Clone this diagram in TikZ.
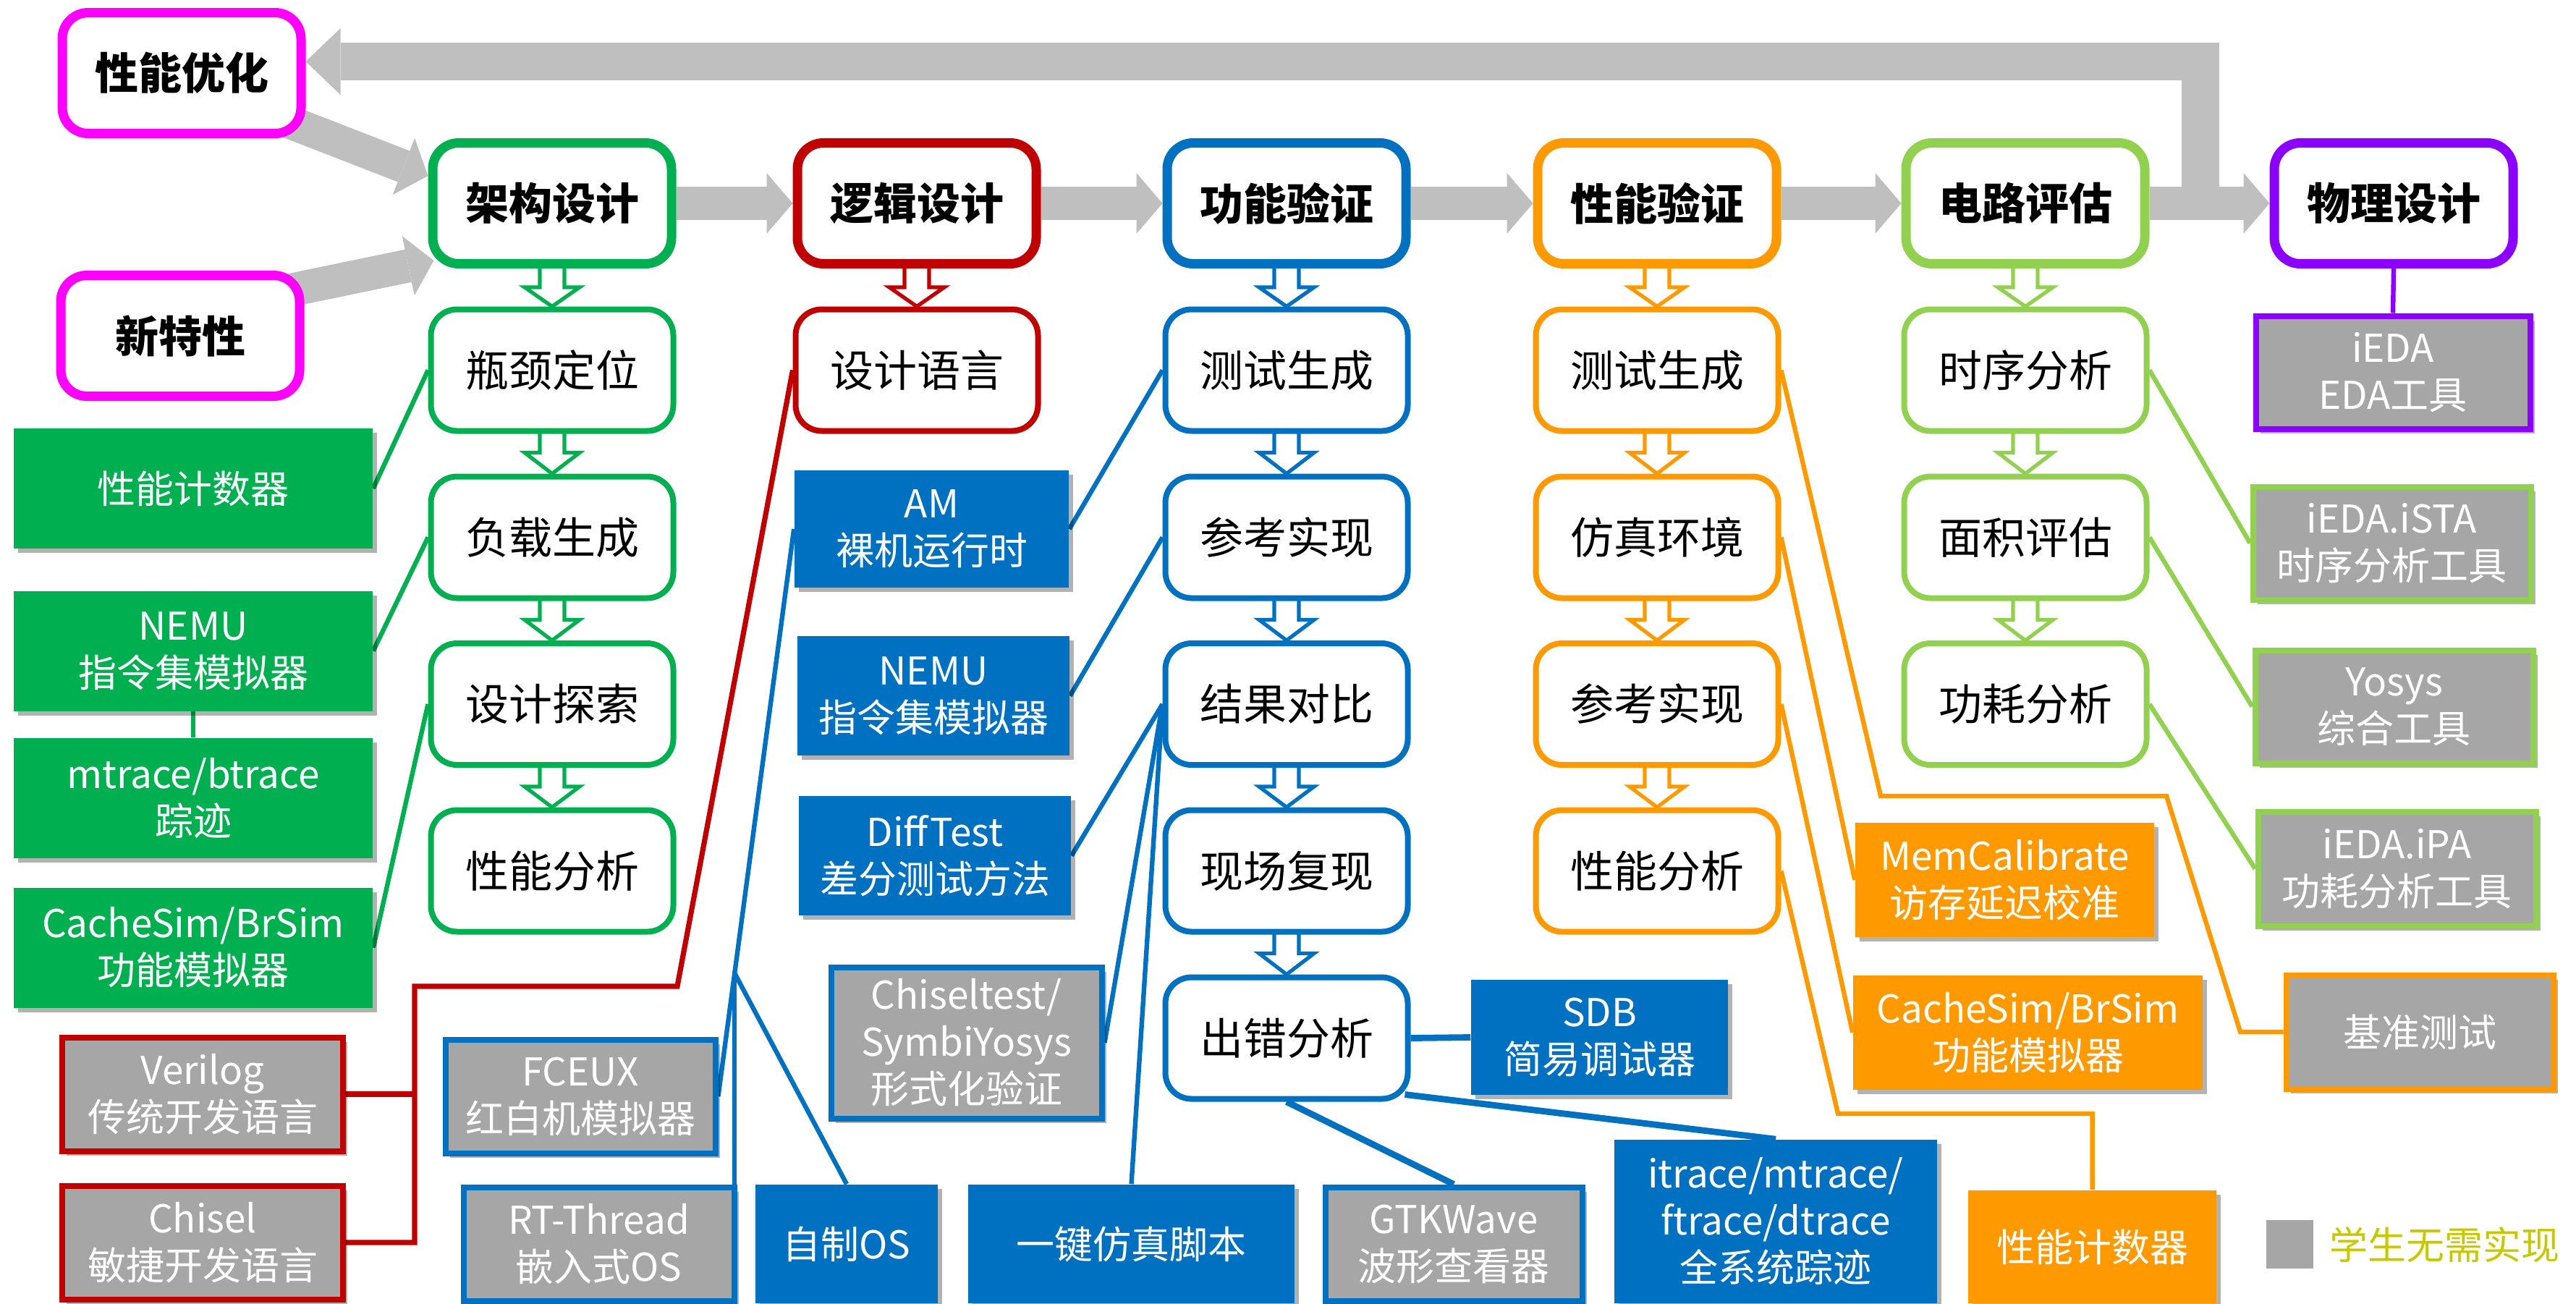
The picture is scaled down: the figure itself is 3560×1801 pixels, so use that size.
\documentclass[tikz,border=0pt]{standalone}
\usepackage{fontspec}
\setmainfont{Noto Sans CJK SC}
\usetikzlibrary{arrows.meta,calc,backgrounds,shadows}
\definecolor{cgreen}{HTML}{00B050}
\definecolor{cred}{HTML}{C00000}
\definecolor{cblue}{HTML}{0070C0}
\definecolor{corange}{HTML}{FF9900}
\definecolor{clgreen}{HTML}{92D050}
\definecolor{cpurple}{HTML}{8B00FF}
\definecolor{cmag}{HTML}{FF00FF}
\definecolor{cgrayfill}{HTML}{A6A6A6}
\definecolor{carrow}{HTML}{BFBFBF}
\definecolor{clegend}{HTML}{C8C800}
\newcommand\sidefont{\fontsize{13.25}{16.25}\selectfont}
\newcommand\boxfont{\fontsize{15}{18}\selectfont}
\newcommand\harrow[3]{%
  \draw[hollowarr,draw=#3] ($(#1.south)+(-17,-10)$) -- ($(#1.south)+(-17,26)$) -- ($(#1.south)+(-38,26)$) -- (#2.north) -- ($(#1.south)+(38,26)$) -- ($(#1.south)+(17,26)$) -- ($(#1.south)+(17,-10)$);}
\begin{document}
\begin{tikzpicture}[x=0.25pt,y=-0.25pt,
  hdr/.style={draw=#1, line width=3.25pt, rounded corners=9pt, fill=white, minimum width=82.5pt, minimum height=41.75pt, inner sep=0pt, font=\boxfont\bfseries},
  sub/.style={draw=#1, line width=2pt, rounded corners=9pt, fill=white, minimum width=83.75pt, minimum height=42pt, inner sep=0pt, font=\boxfont},
  shad/.style={drop shadow={shadow xshift=1.5pt,shadow yshift=-1.5pt,opacity=.3,fill=black}},
  ftool/.style={fill=#1, text=white, align=center, inner sep=0pt, font=\sidefont, shad},
  gtool/.style={fill=cgrayfill, draw=#1, line width=2pt, text=white, align=center, inner sep=0pt, font=\sidefont, shad},
  wh/.style 2 args={minimum width=#1, minimum height=#2},
  garrow/.style={draw=carrow, line width=11.5pt, -{Triangle[length=9pt,width=21pt,line width=0pt]}},
  looparrow/.style={draw=carrow, line width=13pt, -{Triangle[length=12pt,width=23pt,line width=0pt]}},
  hollowarr/.style={line width=1.3pt, fill=white, line join=miter},
  conn/.style={draw=#1, line width=1.6pt},
  conn2/.style={draw=#1, line width=2.2pt}]
\useasboundingbox (0,0) rectangle (3560,1801);

% headers
\node[hdr=cgreen] (h1) at (763,281) {架构设计};
\node[hdr=cred] (h2) at (1267,281) {逻辑设计};
\node[hdr=cblue] (h3) at (1778,281) {功能验证};
\node[hdr=corange] (h4) at (2290,281) {性能验证};
\node[hdr=clgreen] (h5) at (2799,281) {电路评估};
\node[hdr=cpurple] (h6) at (3308,281) {物理设计};
\node[hdr=cmag] (opt) at (251,101) {性能优化};
\node[hdr=cmag] (nf) at (249,464) {新特性};

% sub boxes
\node[sub=cgreen] (s11) at (763,511.5) {瓶颈定位};
\node[sub=cgreen] (s12) at (763,742.5) {负载生成};
\node[sub=cgreen] (s13) at (763,973) {设计探索};
\node[sub=cgreen] (s14) at (763,1203.5) {性能分析};
\node[sub=cred] (s21) at (1267,511.5) {设计语言};
\node[sub=cblue] (s31) at (1778,511.5) {测试生成};
\node[sub=cblue] (s32) at (1778,742.5) {参考实现};
\node[sub=cblue] (s33) at (1778,973) {结果对比};
\node[sub=cblue] (s34) at (1778,1203.5) {现场复现};
\node[sub=cblue] (s35) at (1778,1434.5) {出错分析};
\node[sub=corange] (s41) at (2290,511.5) {测试生成};
\node[sub=corange] (s42) at (2290,742.5) {仿真环境};
\node[sub=corange] (s43) at (2290,973) {参考实现};
\node[sub=corange] (s44) at (2290,1203.5) {性能分析};
\node[sub=clgreen] (s51) at (2799,511.5) {时序分析};
\node[sub=clgreen] (s52) at (2799,742.5) {面积评估};
\node[sub=clgreen] (s53) at (2799,973) {功耗分析};

% green tools
\node[ftool=cgreen, wh={124pt}{41.5pt}] (pc1) at (267,675) {性能计数器};
\node[ftool=cgreen, wh={124pt}{41.5pt}] (nemu1) at (267,899.5) {NEMU\\指令集模拟器};
\node[ftool=cgreen, wh={124pt}{41.5pt}] (mtr) at (267,1102.5) {mtrace/btrace\\踪迹};
\node[ftool=cgreen, wh={124pt}{41.5pt}] (cs1) at (267,1309.5) {CacheSim/BrSim\\功能模拟器};
% red tools
\node[gtool=cred, wh={97pt}{39.25pt}] (verilog) at (280,1512) {Verilog\\传统开发语言};
\node[gtool=cred, wh={97pt}{39.25pt}] (chisel) at (280,1717) {Chisel\\敏捷开发语言};
% blue tools
\node[ftool=cblue, wh={94.75pt}{40.5pt}] (am) at (1287.5,731) {AM\\裸机运行时};
\node[ftool=cblue, wh={94pt}{41.25pt}] (nemu2) at (1290,961.5) {NEMU\\指令集模拟器};
\node[ftool=cblue, wh={94pt}{41.25pt}] (dt) at (1292,1182.5) {DiffTest\\差分测试方法};
\node[gtool=cblue, wh={93.5pt}{52.25pt}] (ct) at (1335.5,1441) {Chiseltest/\\SymbiYosys\\形式化验证};
\node[gtool=cblue, wh={93.25pt}{39.25pt}] (fceux) at (802,1515) {FCEUX\\红白机模拟器};
\node[gtool=cblue, wh={93.5pt}{39.25pt}] (rt) at (827.5,1719) {RT-Thread\\嵌入式OS};
\node[ftool=cblue, wh={63pt}{41pt}] (os) at (1170,1719) {自制OS};
\node[ftool=cblue, wh={112.75pt}{41pt}] (yj) at (1563.5,1719) {一键仿真脚本};
\node[gtool=cblue, wh={88.75pt}{39.25pt}] (gtk) at (2009,1719) {GTKWave\\波形查看器};
\node[ftool=cblue, wh={111.5pt}{56.5pt}] (itr) at (2454,1688) {itrace/mtrace/\\ftrace/dtrace\\全系统踪迹};
\node[ftool=cblue, wh={88.75pt}{39.75pt}] (sdb) at (2210.5,1433.5) {SDB\\简易调试器};
% orange tools
\node[ftool=corange, wh={103.25pt}{39.5pt}] (memcal) at (2770.5,1216) {MemCalibrate\\访存延迟校准};
\node[ftool=corange, wh={120.75pt}{39.5pt}] (cs2) at (2802.5,1427) {CacheSim/BrSim\\功能模拟器};
\node[ftool=corange, wh={85.75pt}{39pt}] (pc2) at (2891.5,1723) {性能计数器};
\node[gtool=corange, wh={92.25pt}{39.25pt}] (bz) at (3344,1426) {基准测试};
% light green tools
\node[gtool=clgreen, wh={96pt}{39pt}] (ista) at (3305.5,750.5) {iEDA.iSTA\\时序分析工具};
\node[gtool=clgreen, wh={96pt}{39pt}] (yosys) at (3308.5,976.5) {Yosys\\综合工具};
\node[gtool=clgreen, wh={96pt}{39.5pt}] (ipa) at (3312.5,1200.5) {iEDA.iPA\\功耗分析工具};
% purple tool
\node[gtool=cpurple, wh={94.75pt}{39pt}] (ieda) at (3307,514.5) {iEDA\\EDA工具};

% legend
\node[fill=cgrayfill, minimum width=16.25pt, minimum height=16.75pt, inner sep=0pt] (lsq) at (3164.5,1719.5) {};
\node[anchor=west, text=clegend, font=\sidefont, inner sep=0pt] (ltx) at (3219,1720) {学生无需实现};

\begin{pgfonlayer}{background}
  % gray flow arrows
  \draw[garrow] (h1.east) -- (h2.west);
  \draw[garrow] (h2.east) -- (h3.west);
  \draw[garrow] (h3.east) -- (h4.west);
  \draw[garrow] (h4.east) -- (h5.west);
  \draw[garrow] (h5.east) -- (h6.west);
  \coordinate (lp) at (3041,281);
  \draw[looparrow] (lp) |- ([yshift=4pt]opt.east);
  \draw[garrow] ([xshift=-6pt,yshift=-16.75pt]opt.east) -- ([yshift=9.5pt]h1.west);
  \draw[garrow] ([xshift=-6pt,yshift=15.5pt]nf.east) -- ([xshift=2pt,yshift=-19.75pt]h1.west);
  % hollow arrows
  \harrow{h1}{s11}{cgreen}
  \harrow{s11}{s12}{cgreen}
  \harrow{s12}{s13}{cgreen}
  \harrow{s13}{s14}{cgreen}
  \harrow{h2}{s21}{cred}
  \harrow{h3}{s31}{cblue}
  \harrow{s31}{s32}{cblue}
  \harrow{s32}{s33}{cblue}
  \harrow{s33}{s34}{cblue}
  \harrow{s34}{s35}{cblue}
  \harrow{h4}{s41}{corange}
  \harrow{s41}{s42}{corange}
  \harrow{s42}{s43}{corange}
  \harrow{s43}{s44}{corange}
  \harrow{h5}{s51}{clgreen}
  \harrow{s51}{s52}{clgreen}
  \harrow{s52}{s53}{clgreen}
  % green connectors
  \draw[conn=cgreen] (pc1.east) -- (s11.west);
  \draw[conn=cgreen] (nemu1.east) -- (s12.west);
  \draw[conn=cgreen] (cs1.east) -- (s13.west);
  \draw[conn=cgreen] (nemu1.south) -- (mtr.north);
  % red connectors
  \coordinate (rA) at (936,1363);
  \coordinate (rB) at (573,1363);
  \draw[conn=cred, line width=1.8pt] (s21.west) -- (rA) -- (rB) |- (chisel.east);
  \draw[conn=cred, line width=1.8pt] (verilog.east) -- (verilog.east -| rB);
  % blue connectors
  \draw[conn=cblue] (s31.west) -- (am.east);
  \draw[conn=cblue] (s32.west) -- (nemu2.east);
  \draw[conn=cblue] (s33.west) -- (dt.east);
  \draw[conn=cblue] (s33.west) -- (ct.east);
  \draw[conn=cblue] (s33.west) -- (yj.north);
  \draw[conn=cblue] (am.west) -- (fceux.east);
  \coordinate (bj) at ($(am.west)!0.783!(fceux.east)$);
  \draw[conn=cblue] (bj) -- (bj |- rt.south);
  \draw[conn=cblue] (bj) -- (os.north);
  \draw[conn2=cblue] (s35.east) -- (sdb.west);
  \draw[conn2=cblue] (s35.south) -- (gtk.north);
  \draw[conn2=cblue] ([xshift=-2pt,yshift=2.5pt]s35.south east) -- (itr.north);
  % orange connectors
  \coordinate (oA) at (2599,1100);
  \coordinate (oB) at (2994,1100);
  \coordinate (oC) at (3096,1426);
  \coordinate (oD) at (2540,1539);
  \draw[conn=corange] (s41.east) -- (oA) -- (oB) -- (oC) -- (bz.west);
  \draw[conn=corange] (s42.east) -- (memcal.west);
  \draw[conn=corange] (s43.east) -- (cs2.west);
  \draw[conn=corange] (s44.east) -- (oD) -| (pc2.north);
  % light green connectors
  \draw[conn=clgreen] (s51.east) -- (ista.west);
  \draw[conn=clgreen] (s52.east) -- (yosys.west);
  \draw[conn=clgreen] (s53.east) -- (ipa.west);
  % purple connector
  \draw[conn=cpurple] (h6.south) -- (ieda.north);
\end{pgfonlayer}
\end{tikzpicture}
\end{document}
